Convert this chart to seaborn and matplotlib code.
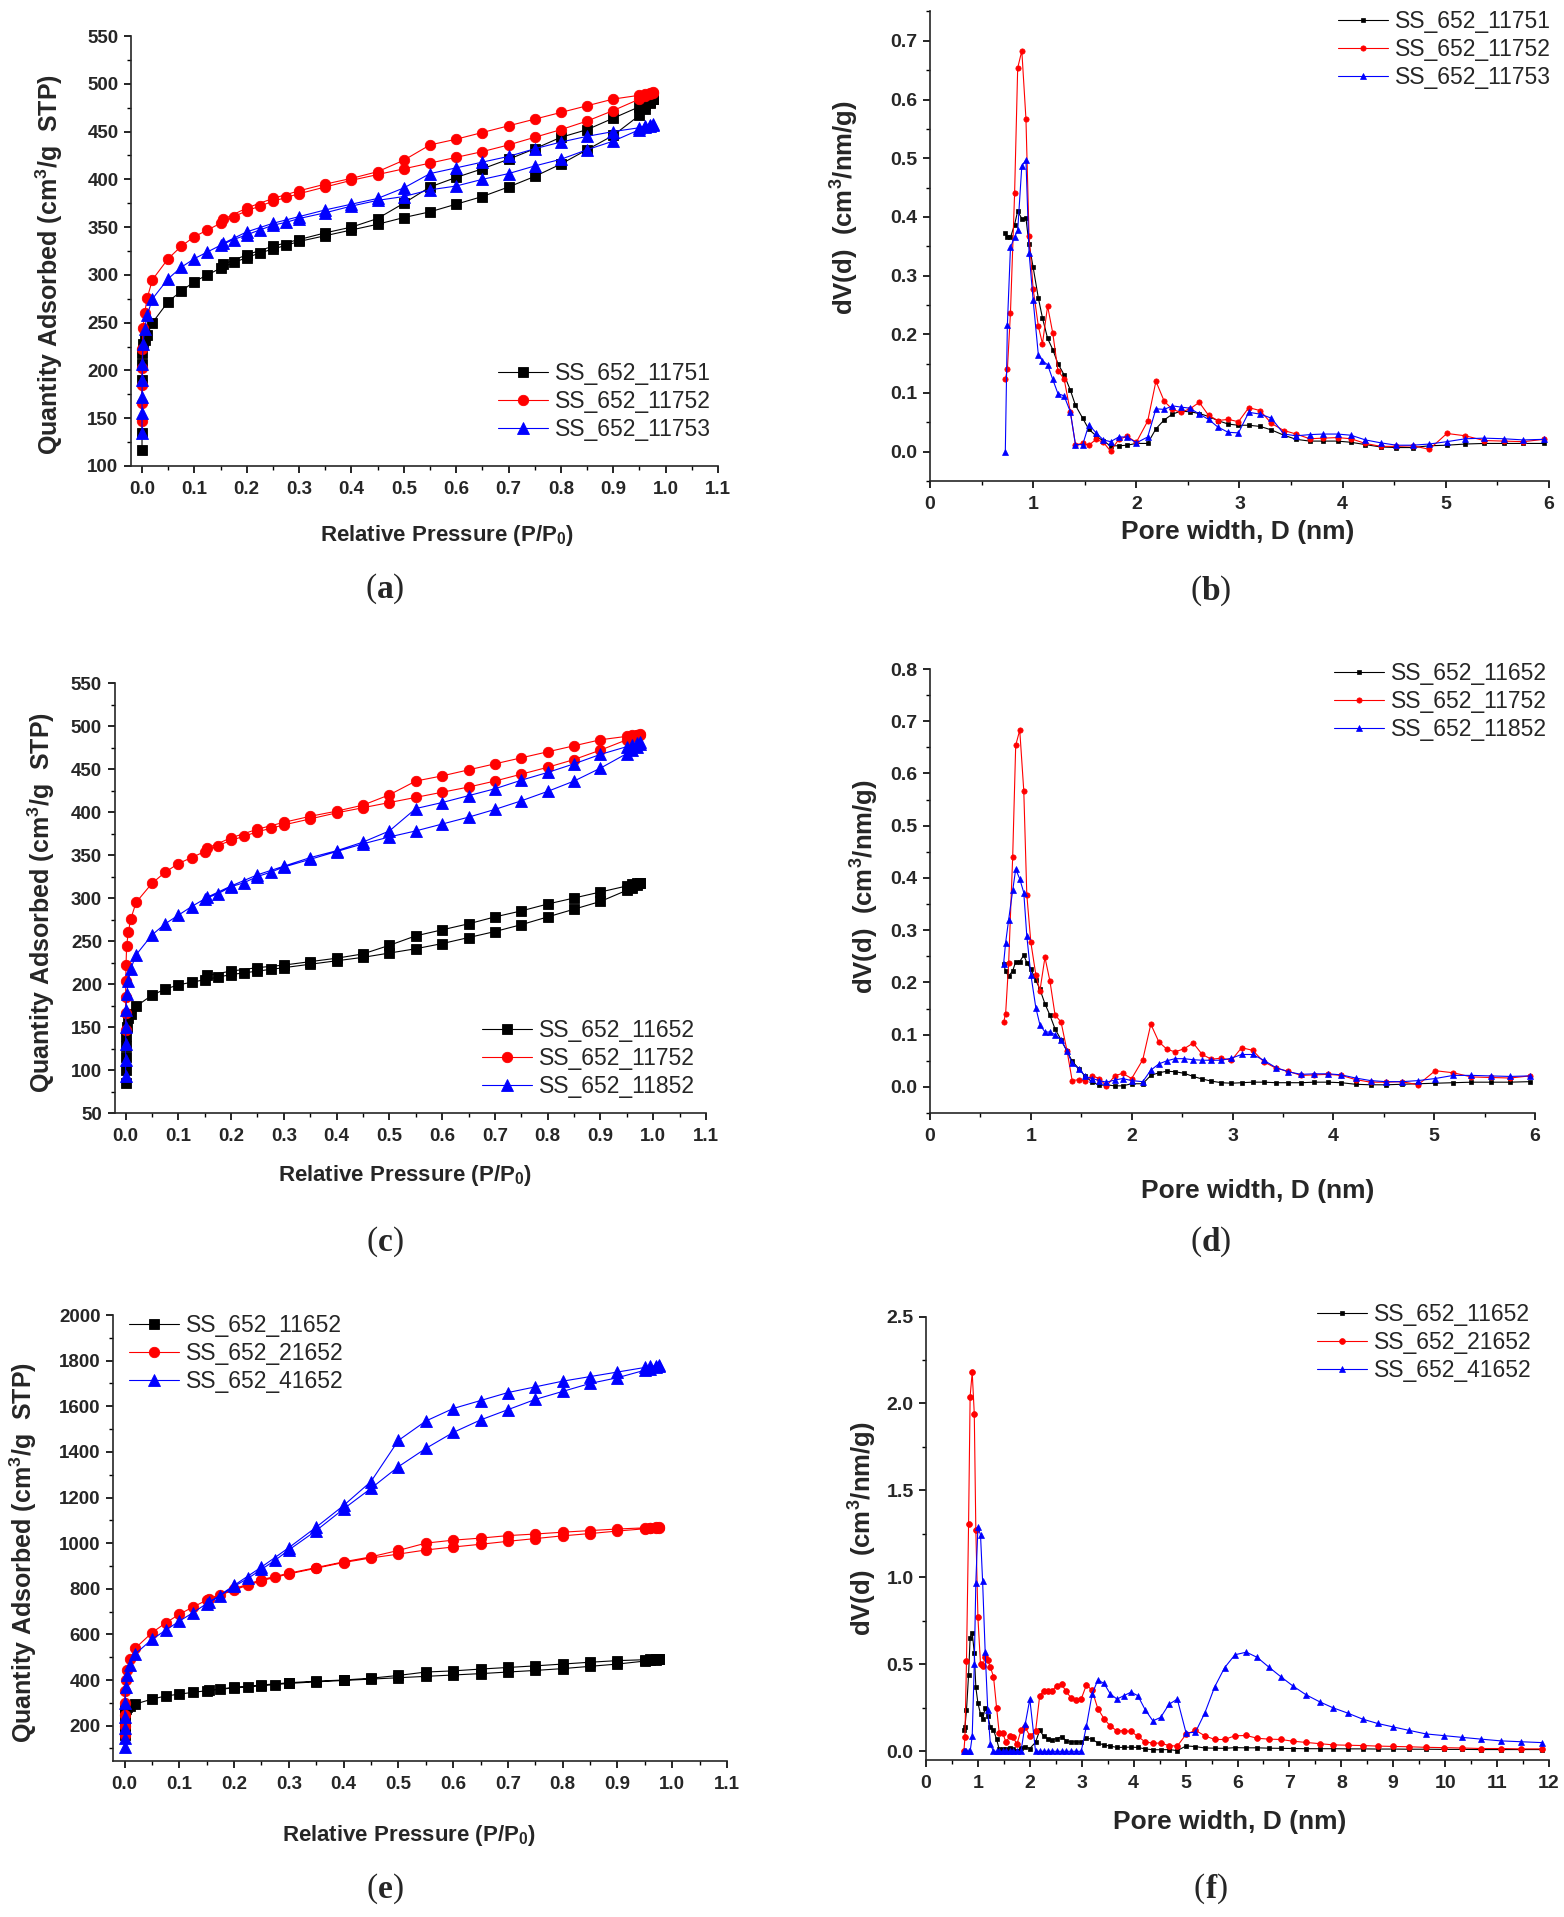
import matplotlib
matplotlib.use("Agg")
import matplotlib.pyplot as plt
import seaborn as sns
from matplotlib.ticker import MultipleLocator, FormatStrFormatter

# ---------------- isotherm data (P/P0 grid shared by all isotherms) ----------------
iso_x_low = [0.00002, 0.00005, 0.0001, 0.0003, 0.0008, 0.002, 0.005, 0.01]
iso_x_ads = [0.02, 0.05, 0.075, 0.1, 0.125, 0.15, 0.175, 0.2, 0.225, 0.25, 0.275, 0.3,
             0.35, 0.4, 0.45, 0.5, 0.55, 0.6, 0.65, 0.7, 0.75, 0.8, 0.85, 0.9,
             0.95, 0.96, 0.97, 0.975]
iso_x_des = [0.975, 0.97, 0.96, 0.95, 0.9, 0.85, 0.8, 0.75, 0.7, 0.65, 0.6, 0.55,
             0.5, 0.45, 0.4, 0.35, 0.3, 0.25, 0.2, 0.155]

# panel (a)
a_11751_low = [117, 135, 190, 207, 218, 228, 232, 237]
a_11751_ads = [250, 272, 283, 293, 300, 307, 313, 318, 323, 327, 331, 335, 341, 347,
               353, 360, 366, 374, 382, 392, 403, 416, 431, 446, 467, 474, 480, 484]
a_11751_des = [484, 481, 478, 476, 464, 452, 444, 432, 421, 411, 402, 392, 375, 359,
               350, 344, 337, 330, 321, 311]

iso_11752_low = [147, 166, 185, 203, 222, 244, 260, 276]
iso_11752_ads = [295, 317, 330, 340, 347, 354, 361, 367, 372, 377, 381, 385, 392, 399,
                 405, 411, 417, 423, 429, 436, 444, 452, 461, 472, 484, 487, 489, 490]
iso_11752_des = [491, 490, 489, 488, 484, 477, 470, 463, 456, 449, 442, 436, 420, 408,
                 401, 395, 388, 380, 370, 358]

a_11753_low = [135, 155, 172, 190, 207, 228, 243, 258]
a_11753_ads = [275, 296, 308, 317, 324, 331, 337, 342, 347, 352, 355, 359, 365, 372,
               378, 382, 389, 393, 400, 406, 414, 421, 431, 440, 452, 455, 456, 457]
a_11753_des = [458, 457, 456, 454, 450, 445, 439, 432, 424, 418, 412, 406, 391, 380,
               374, 368, 361, 354, 345, 333]

# panel (c)
c_11652_low = [85, 100, 115, 128, 140, 150, 160, 165]
c_11652_ads = [174, 187, 194, 199, 202, 205, 208, 211, 213, 215, 217, 219, 223, 227,
               231, 236, 241, 247, 254, 261, 269, 278, 287, 296, 309, 312, 315, 317]
c_11652_des = [318, 317, 316, 314, 307, 300, 293, 285, 278, 270, 263, 256, 245, 235,
               230, 226, 222, 219, 215, 210]

c_11852_low = [93, 112, 130, 150, 170, 188, 203, 218]
c_11852_ads = [234, 257, 270, 280, 290, 299, 305, 313, 318, 325, 330, 336, 345, 354,
               363, 371, 378, 386, 394, 403, 413, 424, 436, 451, 468, 472, 476, 479]
c_11852_des = [481, 480, 478, 476, 467, 456, 446, 437, 427, 419, 411, 404, 378, 365,
               355, 347, 337, 327, 314, 301]

# panel (e)
e_11652_low = [160, 200, 235, 255, 268, 275, 280, 286]
e_11652_ads = [295, 316, 330, 338, 346, 353, 360, 365, 370, 375, 380, 385, 392, 398,
               404, 410, 416, 422, 428, 435, 442, 450, 460, 470, 483, 486, 488, 490]
e_11652_des = [492, 491, 490, 489, 485, 478, 470, 462, 455, 448, 440, 435, 420, 408,
               400, 395, 388, 378, 368, 355]

e_21652_low = [160, 200, 245, 300, 350, 400, 445, 490]
e_21652_ads = [540, 607, 650, 688, 720, 750, 772, 795, 815, 835, 850, 865, 890, 915,
               935, 952, 970, 983, 995, 1008, 1020, 1032, 1042, 1053, 1063, 1065, 1067, 1068]
e_21652_des = [1070, 1069, 1068, 1067, 1062, 1055, 1048, 1040, 1033, 1022, 1013, 1000,
               968, 940, 918, 893, 868, 840, 800, 755]

e_41652_low = [105, 145, 190, 240, 300, 370, 420, 465]
e_41652_ads = [515, 578, 618, 658, 695, 735, 770, 810, 845, 885, 925, 970, 1055, 1150,
               1240, 1335, 1415, 1485, 1540, 1585, 1630, 1665, 1700, 1725, 1758, 1765,
               1770, 1775]
e_41652_des = [1780, 1778, 1775, 1770, 1750, 1730, 1710, 1685, 1660, 1625, 1590, 1535,
               1450, 1270, 1165, 1070, 980, 895, 815, 740]

# ---------------- pore size distribution data ----------------
pw = [0.73, 0.75, 0.78, 0.82, 0.85, 0.89, 0.93, 0.96, 1.00, 1.05, 1.09, 1.14, 1.19,
      1.24, 1.30, 1.36, 1.41, 1.48, 1.54, 1.61, 1.68, 1.75, 1.83, 1.91, 2.00, 2.11,
      2.19, 2.27, 2.35, 2.43, 2.52, 2.61, 2.70, 2.79, 2.89, 2.99, 3.09, 3.20, 3.31,
      3.43, 3.55, 3.68, 3.81, 3.95, 4.08, 4.22, 4.37, 4.52, 4.68, 4.84, 5.01, 5.19,
      5.37, 5.56, 5.75, 5.95]
pw_tail = [6.17, 6.38, 6.60, 6.83, 7.07, 7.32, 7.58, 7.84, 8.12, 8.41, 8.70, 9.00,
           9.31, 9.63, 9.98, 10.33, 10.69, 11.07, 11.46, 11.86]

psd_11751 = [0.372, 0.366, 0.365, 0.387, 0.410, 0.397, 0.398, 0.353, 0.314, 0.262,
             0.228, 0.193, 0.174, 0.150, 0.131, 0.105, 0.079, 0.057, 0.038, 0.027,
             0.018, 0.010, 0.010, 0.011, 0.014, 0.014, 0.039, 0.054, 0.064, 0.069,
             0.068, 0.065, 0.060, 0.053, 0.047, 0.045, 0.045, 0.043, 0.037, 0.028,
             0.021, 0.018, 0.018, 0.018, 0.016, 0.012, 0.008, 0.007, 0.007, 0.010,
             0.011, 0.013, 0.014, 0.014, 0.014, 0.014]
psd_11752 = [0.124, 0.140, 0.237, 0.440, 0.654, 0.683, 0.567, 0.368, 0.277, 0.214,
             0.184, 0.248, 0.202, 0.138, 0.124, 0.068, 0.012, 0.014, 0.011, 0.021,
             0.016, 0.001, 0.021, 0.026, 0.016, 0.052, 0.120, 0.086, 0.072, 0.067,
             0.073, 0.084, 0.062, 0.053, 0.055, 0.051, 0.075, 0.070, 0.048, 0.036,
             0.030, 0.022, 0.023, 0.024, 0.022, 0.014, 0.009, 0.009, 0.010, 0.004,
             0.031, 0.027, 0.019, 0.018, 0.017, 0.021]
psd_11753 = [0.0, 0.216, 0.348, 0.366, 0.377, 0.487, 0.497, 0.339, 0.258, 0.165,
             0.155, 0.148, 0.123, 0.099, 0.095, 0.068, 0.012, 0.012, 0.046, 0.032,
             0.020, 0.017, 0.025, 0.025, 0.015, 0.025, 0.073, 0.072, 0.078, 0.076,
             0.074, 0.064, 0.055, 0.042, 0.033, 0.032, 0.067, 0.064, 0.057, 0.030,
             0.027, 0.029, 0.030, 0.030, 0.028, 0.020, 0.015, 0.011, 0.011, 0.013,
             0.017, 0.022, 0.023, 0.022, 0.020, 0.021]
psd_11652 = [0.236, 0.221, 0.212, 0.222, 0.240, 0.240, 0.252, 0.238, 0.226, 0.204,
             0.187, 0.159, 0.137, 0.111, 0.090, 0.068, 0.049, 0.034, 0.020, 0.009,
             0.003, 0.004, 0.002, 0.002, 0.006, 0.006, 0.022, 0.027, 0.030, 0.029,
             0.026, 0.020, 0.015, 0.011, 0.008, 0.007, 0.008, 0.009, 0.009, 0.008,
             0.008, 0.008, 0.009, 0.009, 0.008, 0.005, 0.004, 0.004, 0.005, 0.006,
             0.007, 0.008, 0.009, 0.009, 0.009, 0.010]
psd_11852 = [0.236, 0.276, 0.320, 0.376, 0.417, 0.398, 0.372, 0.289, 0.215, 0.151,
             0.119, 0.105, 0.105, 0.100, 0.090, 0.068, 0.045, 0.034, 0.020, 0.016,
             0.012, 0.009, 0.013, 0.016, 0.012, 0.010, 0.032, 0.044, 0.050, 0.054,
             0.054, 0.052, 0.051, 0.051, 0.051, 0.055, 0.062, 0.062, 0.051, 0.037,
             0.029, 0.024, 0.025, 0.025, 0.023, 0.017, 0.012, 0.010, 0.010, 0.012,
             0.016, 0.022, 0.022, 0.021, 0.020, 0.021]
f_11652 = psd_11752 + [0.020, 0.020, 0.018, 0.017, 0.016, 0.015, 0.015, 0.015, 0.014,
                       0.014, 0.013, 0.013, 0.012, 0.012, 0.011, 0.011, 0.010, 0.010,
                       0.010, 0.010]
f_21652 = [0.0, 0.08, 0.52, 1.306, 2.04, 2.18, 1.94, 1.27, 0.77,
           0.50, 0.49, 0.54, 0.525, 0.483, 0.43, 0.25, 0.105, 0.105, 0.051,
           0.086, 0.082, 0.040, 0.121, 0.138, 0.089, 0.114,
           0.32, 0.348, 0.348, 0.348, 0.378, 0.385, 0.345, 0.308, 0.296, 0.301,
           0.382, 0.35, 0.245, 0.187, 0.145, 0.117, 0.119, 0.114,
           0.086, 0.054, 0.047, 0.047, 0.033, 0.030,
           0.098, 0.121, 0.089, 0.068, 0.068, 0.089,
           0.091, 0.075, 0.070, 0.068, 0.058, 0.051, 0.044, 0.037, 0.035, 0.033,
           0.030, 0.028, 0.026, 0.023, 0.021, 0.019, 0.016, 0.016, 0.014, 0.014]
f_41652 = [0.0, 0.0, 0.0, 0.0, 0.0, 0.086, 0.50, 0.97, 1.29,
           1.245, 0.98, 0.57, 0.237, 0.04, 0.0, 0.0, 0.0, 0.0, 0.0,
           0.0, 0.0, 0.0, 0.0, 0.155, 0.30, 0.0,
           0.0, 0.0, 0.0, 0.0, 0.0, 0.0, 0.0, 0.0, 0.0, 0.0,
           0.145, 0.33, 0.41, 0.39, 0.33, 0.30, 0.32, 0.34,
           0.32, 0.24, 0.175, 0.195, 0.27, 0.30,
           0.105, 0.11, 0.22, 0.37, 0.48, 0.555,
           0.57, 0.54, 0.485, 0.43, 0.375, 0.325, 0.285, 0.25, 0.22, 0.185,
           0.16, 0.14, 0.12, 0.10, 0.09, 0.08, 0.07, 0.06, 0.055, 0.05]

# ---------------- style ----------------
sns.set_style("ticks")
plt.rcParams['font.family'] = ['Liberation Sans', 'DejaVu Sans']
plt.rcParams['font.weight'] = 'bold'
plt.rcParams['mathtext.fontset'] = 'custom'
plt.rcParams['mathtext.rm'] = 'Liberation Sans:bold'
plt.rcParams['mathtext.bf'] = 'Liberation Sans:bold'
plt.rcParams['mathtext.it'] = 'Liberation Sans:bold'
plt.rcParams['mathtext.default'] = 'bf'
plt.rcParams['axes.linewidth'] = 1.2

W, H = 1564, 1917
fig = plt.figure(figsize=(W / 100, H / 100), dpi=100)

BLACK, RED, BLUE = '#000000', '#ff0000', '#0000ff'


def add_ax(L, T, R, B):
    return fig.add_axes([L / W, 1 - B / H, (R - L) / W, (B - T) / H])


def iso_line(ax, low, ads, des, color, marker, ms, label):
    x = iso_x_low + iso_x_ads + iso_x_des
    y = low + ads + des
    sns.lineplot(x=x, y=y, ax=ax, estimator=None, sort=False, color=color,
                 marker=marker, markersize=ms, markeredgecolor=color,
                 markeredgewidth=0.6, linewidth=0.8, label=label)


def psd_line(ax, x, y, color, marker, ms, label):
    sns.lineplot(x=x, y=y, ax=ax, estimator=None, sort=False, color=color,
                 marker=marker, markersize=ms, markeredgecolor=color,
                 markeredgewidth=0.5, linewidth=0.8, label=label)


def finish(ax, xlim, ylim, xticks, yticks, xminor, yminor, xfmt, yfmt, tsize):
    ax.set_xlim(*xlim)
    ax.set_ylim(*ylim)
    ax.set_xticks(xticks)
    ax.set_yticks(yticks)
    ax.xaxis.set_minor_locator(MultipleLocator(xminor))
    ax.yaxis.set_minor_locator(MultipleLocator(yminor))
    ax.xaxis.set_major_formatter(FormatStrFormatter(xfmt))
    ax.yaxis.set_major_formatter(FormatStrFormatter(yfmt))
    sns.despine(ax=ax)
    ax.tick_params(which='major', length=5, width=1.2, labelsize=tsize, color='black')
    ax.tick_params(axis='x', which='major', pad=6)
    ax.tick_params(axis='y', which='major', pad=4)
    ax.tick_params(which='minor', length=3, width=1.0, color='black')
    ax.tick_params(which='minor', left=True, bottom=True)


def legend_at(ax, x, y):
    ax.legend(loc='upper left', bbox_to_anchor=(x / W, 1 - y / H),
              bbox_transform=fig.transFigure, frameon=False, borderpad=0,
              handlelength=2.18, handletextpad=0.3, labelspacing=0.22,
              borderaxespad=0, prop={'size': 16.5, 'weight': 'normal'})


# half widths (px) of the bold serif letters used in the panel tags
TAG_HALF = {'a': 8, 'b': 9, 'c': 7.5, 'd': 9, 'e': 7.5, 'f': 6}


def tag(letter, cx, cy):
    serif = ['Liberation Serif', 'DejaVu Serif']
    h = TAG_HALF[letter]
    fig.text(cx / W, 1 - cy / H, letter, ha='center', va='center',
             fontsize=24, fontweight='bold', family=serif)
    fig.text((cx - h) / W, 1 - cy / H, '(', ha='right', va='center',
             fontsize=24, fontweight='normal', family=serif)
    fig.text((cx + h) / W, 1 - cy / H, ')', ha='left', va='center',
             fontsize=24, fontweight='normal', family=serif)


def labels(xl, xlpos, xsize, yl, ylpos, ysize):
    fig.text(xlpos[0] / W, 1 - xlpos[1] / H, xl, ha='center', va='center',
             fontsize=xsize, fontweight='bold')
    fig.text(ylpos[0] / W, 1 - ylpos[1] / H, yl, ha='center', va='center',
             rotation=90, fontsize=ysize, fontweight='bold')


iso_xlabel = 'Relative Pressure (P/P$_0$)'
iso_ylabel = 'Quantity Adsorbed (cm$^3$/g  STP)'
psd_xlabel = 'Pore width, D (nm)'
psd_ylabel = 'dV(d)  (cm$^3$/nm/g)'
p_ticks = [0.0, 0.1, 0.2, 0.3, 0.4, 0.5, 0.6, 0.7, 0.8, 0.9, 1.0, 1.1]

# (a)
ax = add_ax(131, 36, 718, 466)
iso_line(ax, a_11751_low, a_11751_ads, a_11751_des, BLACK, 's', 7, 'SS_652_11751')
iso_line(ax, iso_11752_low, iso_11752_ads, iso_11752_des, RED, 'o', 7.5, 'SS_652_11752')
iso_line(ax, a_11753_low, a_11753_ads, a_11753_des, BLUE, '^', 8, 'SS_652_11753')
finish(ax, (-0.021, 1.1), (100, 550), p_ticks, list(range(100, 551, 50)),
       0.05, 25, '%.1f', '%d', 13.5)
legend_at(ax, 498, 362)
labels(iso_xlabel, (447, 536), 16, iso_ylabel, (49, 265), 18)
tag('a', 385, 589)

# (b)
ax = add_ax(930, 11.5, 1549, 481)
psd_line(ax, pw, psd_11751, BLACK, 's', 3.2, 'SS_652_11751')
psd_line(ax, pw, psd_11752, RED, 'o', 3.8, 'SS_652_11752')
psd_line(ax, pw, psd_11753, BLUE, '^', 4, 'SS_652_11753')
finish(ax, (0, 6), (-0.05, 0.75), list(range(0, 7)),
       [0.0, 0.1, 0.2, 0.3, 0.4, 0.5, 0.6, 0.7], 0.5, 0.05, '%d', '%.1f', 14)
legend_at(ax, 1338, 10)
labels(psd_xlabel, (1238, 532), 19, psd_ylabel, (845, 208), 18.5)
tag('b', 1211, 591)

# (c)
ax = add_ax(114.5, 683, 706, 1113)
iso_line(ax, c_11652_low, c_11652_ads, c_11652_des, BLACK, 's', 7, 'SS_652_11652')
iso_line(ax, iso_11752_low, iso_11752_ads, iso_11752_des, RED, 'o', 7.5, 'SS_652_11752')
iso_line(ax, c_11852_low, c_11852_ads, c_11852_des, BLUE, '^', 8, 'SS_652_11852')
finish(ax, (-0.021, 1.1), (50, 550), p_ticks, list(range(50, 551, 50)),
       0.05, 25, '%.1f', '%d', 13.5)
legend_at(ax, 482, 1019)
labels(iso_xlabel, (405, 1176), 16, iso_ylabel, (41, 903), 18)
tag('c', 385, 1242)

# (d)
ax = add_ax(930, 669, 1535, 1113)
psd_line(ax, pw, psd_11652, BLACK, 's', 3.2, 'SS_652_11652')
psd_line(ax, pw, psd_11752, RED, 'o', 3.8, 'SS_652_11752')
psd_line(ax, pw, psd_11852, BLUE, '^', 4, 'SS_652_11852')
finish(ax, (0, 6), (-0.05, 0.8), list(range(0, 7)),
       [0.0, 0.1, 0.2, 0.3, 0.4, 0.5, 0.6, 0.7, 0.8], 0.5, 0.05, '%d', '%.1f', 14)
legend_at(ax, 1334, 662)
labels(psd_xlabel, (1258, 1191), 19, psd_ylabel, (865, 887), 18.5)
tag('d', 1211, 1242)

# (e)
ax = add_ax(113, 1315, 727, 1761)
iso_line(ax, e_11652_low, e_11652_ads, e_11652_des, BLACK, 's', 7, 'SS_652_11652')
iso_line(ax, e_21652_low, e_21652_ads, e_21652_des, RED, 'o', 7.5, 'SS_652_21652')
iso_line(ax, e_41652_low, e_41652_ads, e_41652_des, BLUE, '^', 8, 'SS_652_41652')
finish(ax, (-0.021, 1.1), (45, 2000), p_ticks, list(range(200, 2001, 200)),
       0.05, 100, '%.1f', '%d', 13.5)
legend_at(ax, 129, 1314)
labels(iso_xlabel, (409, 1835), 16, iso_ylabel, (23, 1553), 18)
tag('e', 385, 1889)

# (f)
ax = add_ax(926, 1316.5, 1549, 1760)
pw_f = pw + pw_tail
psd_line(ax, pw_f, f_11652, BLACK, 's', 3.2, 'SS_652_11652')
psd_line(ax, pw_f, f_21652, RED, 'o', 4.2, 'SS_652_21652')
psd_line(ax, pw_f, f_41652, BLUE, '^', 4.2, 'SS_652_41652')
finish(ax, (0, 12), (-0.05, 2.5), list(range(0, 13)),
       [0.0, 0.5, 1.0, 1.5, 2.0, 2.5], 0.5, 0.25, '%d', '%.1f', 14)
legend_at(ax, 1317, 1303)
labels(psd_xlabel, (1230, 1822), 19, psd_ylabel, (863, 1529), 18.5)
tag('f', 1211, 1889)

fig.savefig('out.png', dpi=100)
